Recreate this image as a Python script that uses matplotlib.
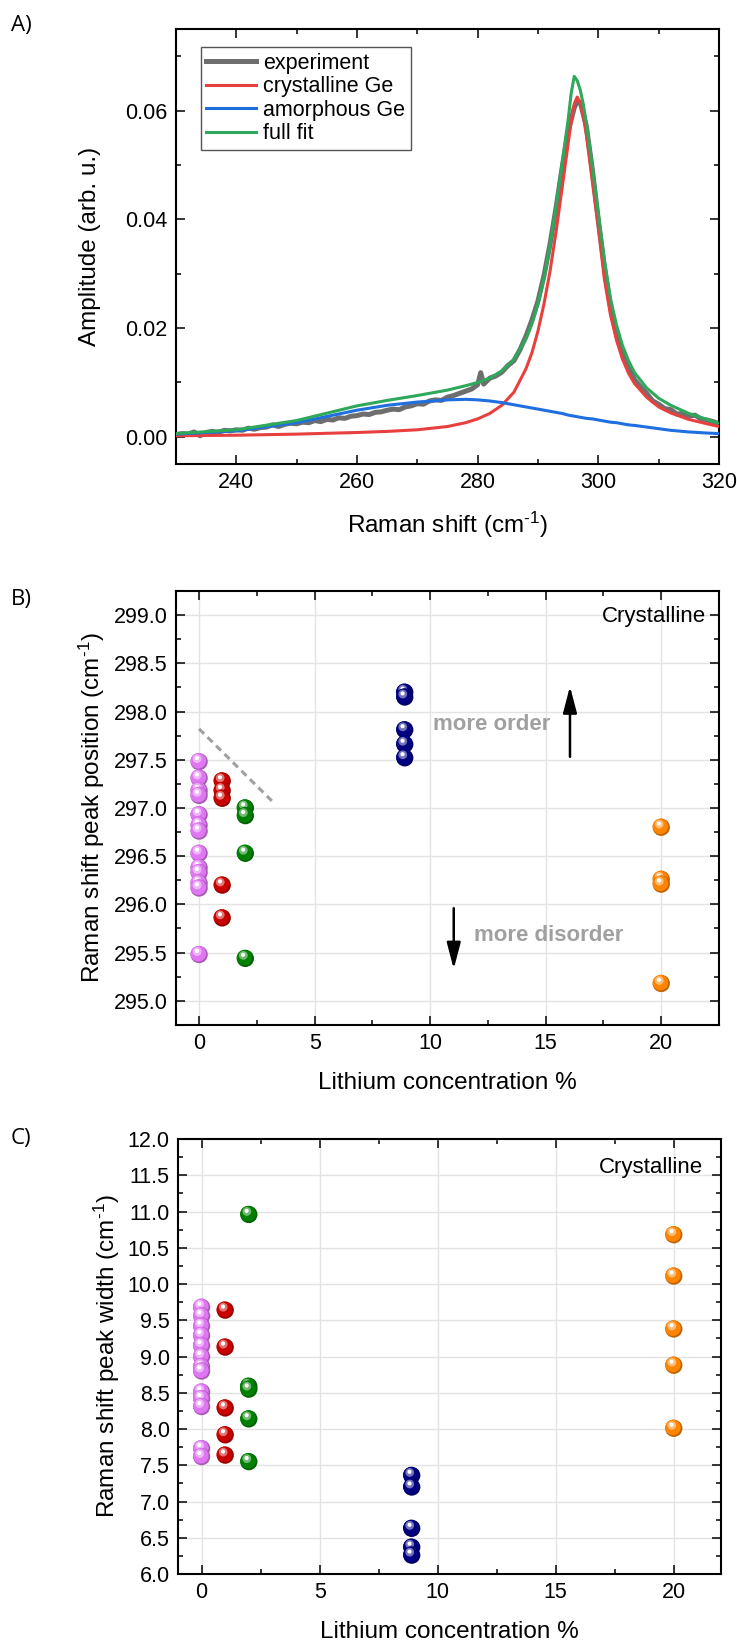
import matplotlib
matplotlib.use("Agg")
import matplotlib.pyplot as plt
from matplotlib.ticker import MultipleLocator, FormatStrFormatter
from matplotlib.transforms import offset_copy
from matplotlib.colors import to_rgb

plt.rcParams['font.family'] = ['Liberation Sans', 'DejaVu Sans']
plt.rcParams['mathtext.fontset'] = 'custom'
plt.rcParams['mathtext.rm'] = 'Liberation Sans'
plt.rcParams['mathtext.it'] = 'Liberation Sans:italic'
plt.rcParams['mathtext.bf'] = 'Liberation Sans:bold'

# ---- panel A: Raman spectrum and fit ----
exp_x = [230, 231, 232, 233, 234, 235, 236, 237, 238, 239, 240, 241, 242, 243, 244, 245,
         246, 247, 248, 249, 250, 251, 252, 253, 254, 255, 256, 257, 258, 259, 260, 261,
         262, 263, 264, 265, 266, 267, 268, 269, 270, 271, 272, 273, 274, 275, 276, 277,
         278, 279, 280, 280.5, 281, 282, 283, 284, 285, 286, 287, 288, 289, 290, 291, 292,
         293, 294, 295, 296, 296.5, 297, 298, 299, 300, 301, 302, 303, 304, 305, 306, 307,
         308, 309, 310, 311, 312, 313, 314, 315, 316, 317, 318, 319, 320]
exp_y = [0.0004, 0.0006, 0.0005, 0.0009, 0.0002, 0.0008, 0.0010, 0.0008, 0.0012, 0.0011,
         0.0013, 0.0012, 0.0016, 0.0014, 0.0017, 0.0018, 0.0022, 0.0019, 0.0023, 0.0025,
         0.0024, 0.0027, 0.0026, 0.0030, 0.0028, 0.0032, 0.0031, 0.0035, 0.0034, 0.0038,
         0.0039, 0.0042, 0.0041, 0.0045, 0.0046, 0.0049, 0.0051, 0.0050, 0.0055, 0.0057,
         0.0061, 0.0060, 0.0066, 0.0068, 0.0067, 0.0073, 0.0076, 0.0080, 0.0084, 0.0088,
         0.0096, 0.0118, 0.0097, 0.0108, 0.0112, 0.0119, 0.0131, 0.0140, 0.0160, 0.0185,
         0.0215, 0.0250, 0.0297, 0.0355, 0.0422, 0.0495, 0.0562, 0.0605, 0.0618, 0.0615,
         0.0572, 0.0492, 0.0398, 0.0312, 0.0240, 0.0190, 0.0155, 0.0128, 0.0105, 0.0092,
         0.0080, 0.0066, 0.0060, 0.0052, 0.0050, 0.0042, 0.0043, 0.0038, 0.0040, 0.0033,
         0.0031, 0.0028, 0.0024]

fit_x = [230, 240, 250, 260, 265, 270, 275, 278, 280, 282, 284, 286, 288, 289, 290, 291,
         292, 293, 294, 295, 295.5, 296, 296.5, 297, 297.5, 298, 299, 300, 301, 302, 303,
         304, 305, 306, 308, 310, 312, 315, 318, 320]
cryst_y = [0.0002, 0.0003, 0.0005, 0.0008, 0.0010, 0.0013, 0.0019, 0.0026, 0.0033, 0.0043,
           0.0058, 0.0082, 0.0125, 0.0155, 0.0195, 0.0245, 0.0305, 0.0378, 0.0458, 0.0540,
           0.0580, 0.0612, 0.0625, 0.0614, 0.0590, 0.0556, 0.0470, 0.0385, 0.0290, 0.0225,
           0.0178, 0.0143, 0.0117, 0.0098, 0.0073, 0.0055, 0.0044, 0.0032, 0.0024, 0.0019]
amorph_y = [0.0005, 0.0011, 0.0026, 0.0049, 0.0058, 0.0064, 0.0068, 0.0069, 0.0068, 0.0066,
            0.0063, 0.0059, 0.0055, 0.0053, 0.0051, 0.0049, 0.0047, 0.0045, 0.0043, 0.0040,
            0.0039, 0.0038, 0.0037, 0.0036, 0.0035, 0.0034, 0.0033, 0.0031, 0.0029, 0.0027,
            0.0026, 0.0024, 0.0022, 0.0021, 0.0018, 0.0015, 0.0012, 0.0009, 0.0007, 0.0006]
full_y = [0.0006, 0.0013, 0.0030, 0.0057, 0.0067, 0.0076, 0.0086, 0.0094, 0.0100, 0.0108,
          0.0121, 0.0142, 0.0180, 0.0208, 0.0245, 0.0292, 0.0352, 0.0424, 0.0503, 0.0584,
          0.0632, 0.0663, 0.0655, 0.0638, 0.0612, 0.0578, 0.0497, 0.0410, 0.0325, 0.0255,
          0.0206, 0.0168, 0.0140, 0.0118, 0.0090, 0.0071, 0.0058, 0.0043, 0.0032, 0.0025]

# ---- panels B and C: peak position / width vs lithium concentration ----
li_0, li_1, li_2, li_9, li_20 = 0, 1, 2, 8.9, 20

pos_0 = [297.48, 297.31, 297.18, 297.13, 296.93, 296.82, 296.76, 296.53, 296.38, 296.33,
         296.22, 296.17, 295.48]
pos_1 = [297.28, 297.18, 297.10, 296.20, 295.86]
pos_2 = [297.00, 296.92, 296.53, 295.44]
pos_9 = [298.20, 298.15, 297.81, 297.66, 297.52]
pos_20 = [296.80, 296.26, 296.21, 295.18]

wid_0 = [9.68, 9.56, 9.42, 9.29, 9.15, 9.00, 8.86, 8.80, 8.51, 8.42, 8.31, 7.73, 7.62]
wid_1 = [9.64, 9.13, 8.29, 7.92, 7.64]
wid_2 = [10.96, 8.59, 8.55, 8.14, 7.55]
wid_9 = [7.36, 7.20, 6.63, 6.37, 6.26]
wid_20 = [10.68, 10.11, 9.38, 8.88, 8.01]

col_0, col_1, col_2, col_9, col_20 = '#E077F2', '#C80000', '#008000', '#000080', '#FF8400'

CM = r'(cm$^{\text{-1}}$)'

fig = plt.figure(figsize=(7.37, 16.42), dpi=100)
axA = fig.add_axes([0.2388, 0.7174, 0.7368, 0.2649])
axB = fig.add_axes([0.2388, 0.3758, 0.7368, 0.2643])
axC = fig.add_axes([0.2415, 0.0414, 0.7368, 0.2649])


def style(ax):
    ax.tick_params(which='both', direction='in', top=True, right=True, labelsize=15.5,
                   width=1.1, pad=6)
    ax.tick_params(which='major', length=6.5)
    ax.tick_params(which='minor', length=3.5)
    for s in ax.spines.values():
        s.set_linewidth(1.5)


def mix(c, f):
    r, g, b = to_rgb(c)
    return (r + (1 - r) * f, g + (1 - g) * f, b + (1 - b) * f)


def balls(ax, xs, ys, color, z0):
    # fake 3D sphere: dark rim, body, soft light, white spot
    dark = tuple(v * 0.75 for v in to_rgb(color))
    t1 = offset_copy(ax.transData, fig=fig, x=-0.8, y=0.8, units='dots')
    t2 = offset_copy(ax.transData, fig=fig, x=-2.0, y=3.0, units='dots')
    t3 = offset_copy(ax.transData, fig=fig, x=-2.2, y=3.6, units='dots')
    for i, (x, y) in enumerate(zip(xs, ys)):
        z = z0 + i * 0.01
        ax.scatter([x], [y], s=155, color=[dark], edgecolors='none', zorder=z)
        ax.scatter([x], [y], s=125, color=[color], edgecolors='none', zorder=z + 0.001, transform=t1)
        ax.scatter([x], [y], s=40, color=[mix(color, 0.45)], edgecolors='none', zorder=z + 0.002, transform=t2)
        ax.scatter([x], [y], s=9, color='white', edgecolors='none', zorder=z + 0.003, transform=t3)


# panel A
axA.plot(exp_x, exp_y, color='#6e6e6e', lw=3.6, label='experiment', zorder=2)
axA.plot(fit_x, cryst_y, color='#E8403F', lw=2.2, label='crystalline Ge', zorder=3)
axA.plot(fit_x, amorph_y, color='#1F6FE0', lw=2.2, label='amorphous Ge', zorder=3)
axA.plot(fit_x, full_y, color='#2EA85A', lw=2.2, label='full fit', zorder=4)
axA.set_xlim(230, 320)
axA.set_ylim(-0.005, 0.075)
axA.xaxis.set_major_locator(MultipleLocator(20))
axA.xaxis.set_minor_locator(MultipleLocator(10))
axA.yaxis.set_major_locator(MultipleLocator(0.02))
axA.yaxis.set_minor_locator(MultipleLocator(0.01))
axA.yaxis.set_major_formatter(FormatStrFormatter('%.2f'))
style(axA)
axA.set_xlabel('Raman shift ' + CM, fontsize=17.5, va='center')
axA.xaxis.set_label_coords(0.5, -0.14)
axA.set_ylabel('Amplitude (arb. u.)', fontsize=17.5, va='center')
axA.yaxis.set_label_coords(-0.158, 0.5)
leg = axA.legend(loc='upper left', bbox_to_anchor=(0.046, 0.958), fontsize=15.5,
                 fancybox=False, edgecolor='#555555', framealpha=1, borderpad=0.25,
                 handlelength=2.3, handletextpad=0.35, labelspacing=0.12, borderaxespad=0)
leg.get_frame().set_linewidth(1.0)

# panels B and C share the axis style
for ax in (axB, axC):
    ax.grid(True, which='major', color='#e3e3e3', lw=1)
    ax.set_axisbelow(True)
    ax.xaxis.set_major_locator(MultipleLocator(5))
    ax.xaxis.set_minor_locator(MultipleLocator(2.5))
    ax.yaxis.set_major_locator(MultipleLocator(0.5))
    ax.yaxis.set_minor_locator(MultipleLocator(0.25))
    ax.yaxis.set_major_formatter(FormatStrFormatter('%.1f'))
    style(ax)

balls(axB, [li_0] * len(pos_0), pos_0, col_0, 3)
balls(axB, [li_1] * len(pos_1), pos_1, col_1, 3)
balls(axB, [li_2] * len(pos_2), pos_2, col_2, 3)
balls(axB, [li_9] * len(pos_9), pos_9, col_9, 3)
balls(axB, [li_20] * len(pos_20), pos_20, col_20, 3)
axB.plot([0, 3.16], [297.82, 297.07], color='#a0a0a0', lw=2.2, ls=(0, (2.3, 1.6)), zorder=2)
axB.annotate('', xy=(16.05, 298.26), xytext=(16.05, 297.53),
             arrowprops=dict(arrowstyle='-|>,head_length=1.6,head_width=0.42', color='black',
                             lw=1.8, shrinkA=0, shrinkB=0, mutation_scale=10))
axB.annotate('', xy=(11.02, 295.33), xytext=(11.02, 295.96),
             arrowprops=dict(arrowstyle='-|>,head_length=1.6,head_width=0.42', color='black',
                             lw=1.8, shrinkA=0, shrinkB=0, mutation_scale=10))
axB.text(10.12, 297.87, 'more order', color='#a0a0a0', fontsize=16, fontweight='bold',
         ha='left', va='center')
axB.text(11.9, 295.68, 'more disorder', color='#a0a0a0', fontsize=16, fontweight='bold',
         ha='left', va='center')
axB.text(0.976, 0.942, 'Crystalline', transform=axB.transAxes, fontsize=16, ha='right', va='center')
axB.set_xlim(-1, 22.5)
axB.set_ylim(294.75, 299.25)
axB.set_xlabel('Lithium concentration %', fontsize=17.5, va='center')
axB.xaxis.set_label_coords(0.5, -0.134)
axB.set_ylabel('Raman shift peak position ' + CM, fontsize=17.5, va='center')
axB.yaxis.set_label_coords(-0.155, 0.5)

# panel C
balls(axC, [li_0] * len(wid_0), wid_0, col_0, 3)
balls(axC, [li_1] * len(wid_1), wid_1, col_1, 3)
balls(axC, [li_2] * len(wid_2), wid_2, col_2, 3)
balls(axC, [li_9] * len(wid_9), wid_9, col_9, 3)
balls(axC, [li_20] * len(wid_20), wid_20, col_20, 3)
axC.text(0.967, 0.934, 'Crystalline', transform=axC.transAxes, fontsize=16, ha='right', va='center')
axC.set_xlim(-1, 22)
axC.set_ylim(6.0, 12.0)
axC.set_xlabel('Lithium concentration %', fontsize=17.5, va='center')
axC.xaxis.set_label_coords(0.5, -0.133)
axC.set_ylabel('Raman shift peak width ' + CM, fontsize=17.5, va='center')
axC.yaxis.set_label_coords(-0.131, 0.5)

# panel letters
for lab, yy in (('A)', 25), ('B)', 600), ('C)', 1138)):
    fig.text(11 / 737, 1 - yy / 1642, lab, fontsize=16, family=['Open Sans', 'DejaVu Sans'],
             ha='left', va='center')

fig.savefig('out.png', dpi=100)
